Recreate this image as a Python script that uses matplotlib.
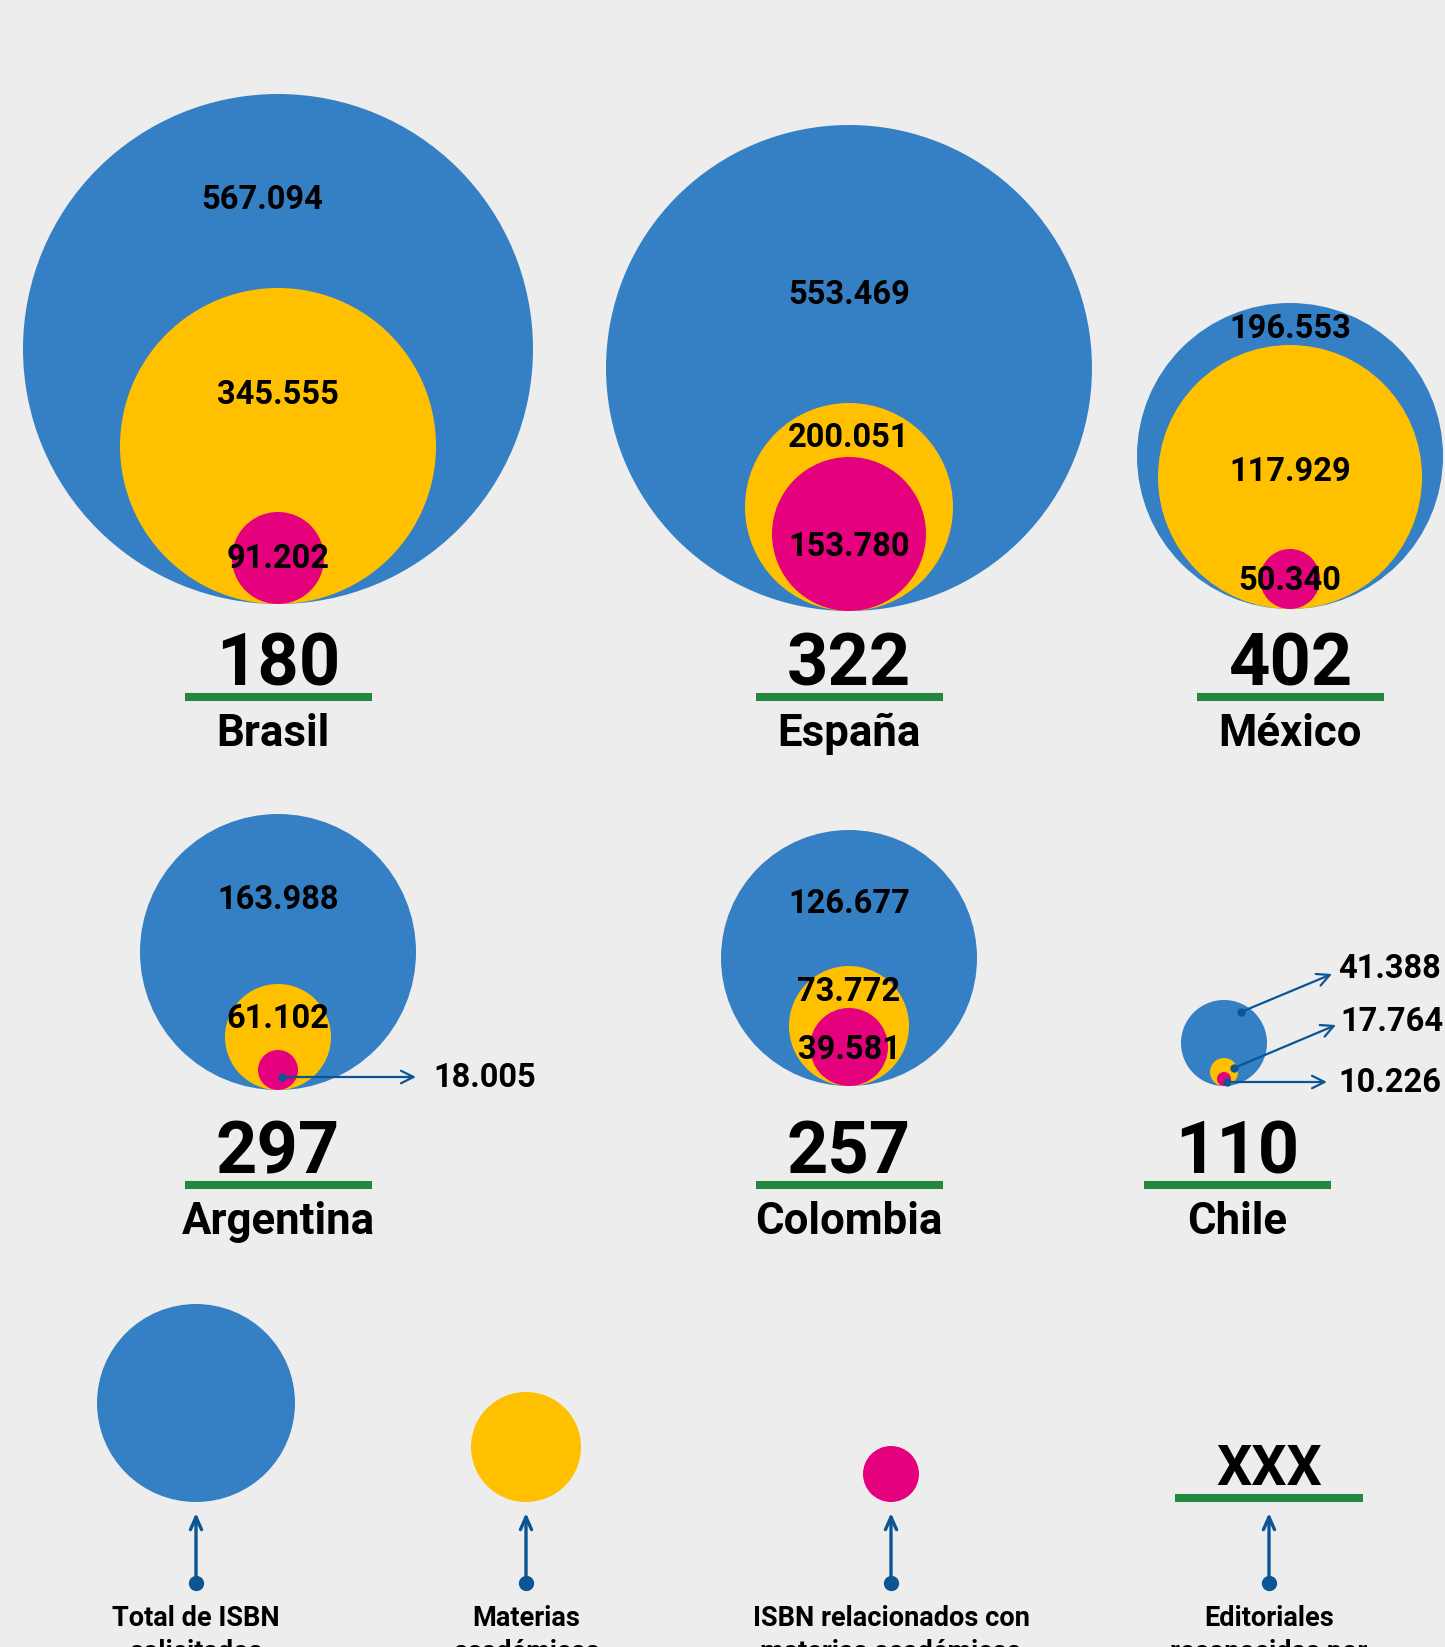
import matplotlib
matplotlib.use("Agg")
import matplotlib.pyplot as plt
from matplotlib.patches import Circle

plt.rcParams['font.family'] = ['Roboto', 'DejaVu Sans']

# data
countries = ['Brasil', 'España', 'México', 'Argentina', 'Colombia', 'Chile']
editoriales = [180, 322, 402, 297, 257, 110]
isbn_total = [567094, 553469, 196553, 163988, 126677, 41388]
isbn_materias = [345555, 200051, 117929, 61102, 73772, 17764]
isbn_relacionados = [91202, 153780, 50340, 18005, 39581, 10226]
legend_labels = [('Total de ISBN', 'solicitados'), ('Materias', 'académicas'),
                 ('ISBN relacionados con', 'materias académicas'),
                 ('Editoriales', 'reconocidas por')]

# layout (pixels, the original is not drawn to one scale)
col_x = [278, 849, 1290, 278, 849, 1224]
label_x = [278, 849, 1290, 278, 849, 1237]
bottom_y = [604, 611, 609, 1090, 1086, 1086]
r_total = [255, 243, 153, 138, 128, 43]
r_materias = [158, 104, 132, 53, 60, 14]
r_relac = [46, 77, 30, 20, 39, 7]
# baselines of the values written inside the circles
y_total = [209, 304, 338, 909, 913]
y_materias = [404, 447, 481, 1028, 1001]
y_relac = [568, 556, 590, None, 1059]
row_base = [685, 685, 685, 1173, 1173, 1173]

BG = '#ededed'
BLUE = '#3580c4'
YELLOW = '#ffc000'
PINK = '#e5007d'
GREEN = '#23883e'
ARROW = '#0b5594'

W, H = 1445, 1647
fig = plt.figure(figsize=(W / 100, H / 100), dpi=100, facecolor=BG)
ax = fig.add_axes([0, 0, 1, 1])
ax.set_xlim(0, W)
ax.set_ylim(H, 0)
ax.set_aspect('equal')
ax.axis('off')
ax.set_facecolor(BG)


def fmt(v):
    return f"{v:,}".replace(',', '.')


def val_text(x, y, v, **kw):
    ax.text(x, y, fmt(v), ha='center', va='baseline', fontsize=23.5,
            fontweight='bold', color='black', zorder=5, **kw)


for i, c in enumerate(countries):
    x = col_x[i]
    b = bottom_y[i]
    for r, col in [(r_total[i], BLUE), (r_materias[i], YELLOW), (r_relac[i], PINK)]:
        ax.add_patch(Circle((x, b - r), r, color=col, lw=0, zorder=2))

    if i < 5:
        xt = 262 if i == 0 else x
        val_text(xt, y_total[i], isbn_total[i])
        val_text(x, y_materias[i], isbn_materias[i])
        if y_relac[i] is not None:
            val_text(x, y_relac[i], isbn_relacionados[i])

    lx = label_x[i]
    base = row_base[i]
    ax.text(lx, base, str(editoriales[i]), ha='center', va='baseline',
            fontsize=52, fontweight='bold', color='black')
    ax.plot([lx - 93.5, lx + 93.5], [base + 12, base + 12], color=GREEN,
            lw=5.8, solid_capstyle='butt')
    ax.text(lx - (5 if i == 0 else 0), base + 61, c, ha='center', va='baseline',
            fontsize=31.5, fontweight='bold', color='black')

# Argentina: callout for the small pink circle
ia = 3
ax.plot(282, 1077, 'o', color=ARROW, ms=5, zorder=6)
ax.annotate('', xy=(416, 1077), xytext=(282, 1077),
            arrowprops=dict(arrowstyle='->,head_length=0.9,head_width=0.45',
                            color=ARROW, lw=1.6, shrinkA=0, shrinkB=0), zorder=6)
ax.text(433, 1087, fmt(isbn_relacionados[ia]), ha='left', va='baseline',
        fontsize=23.5, fontweight='bold')

# Chile: callouts for all three circles
ic = 5
chile_pts = [((1241, 1012), (1332, 974), 1338, 978, isbn_total[ic]),
             ((1234, 1068), (1336, 1025), 1340, 1031, isbn_materias[ic]),
             ((1227, 1082), (1327, 1082), 1338, 1092, isbn_relacionados[ic])]
for start, end, tx, ty, v in chile_pts:
    ax.plot(*start, 'o', color=ARROW, ms=5, zorder=6)
    ax.annotate('', xy=end, xytext=start,
                arrowprops=dict(arrowstyle='->,head_length=0.9,head_width=0.45',
                                color=ARROW, lw=1.6, shrinkA=0, shrinkB=0), zorder=6)
    ax.text(tx, ty, fmt(v), ha='left', va='baseline', fontsize=23.5, fontweight='bold')

# legend
leg_x = [196, 526, 891, 1269]
leg_r = [99, 55, 28]
leg_col = [BLUE, YELLOW, PINK]
for j in range(3):
    ax.add_patch(Circle((leg_x[j], 1502 - leg_r[j]), leg_r[j], color=leg_col[j], lw=0))
ax.text(leg_x[3], 1485, 'XXX', ha='center', va='baseline', fontsize=40,
        fontweight='bold')
ax.plot([leg_x[3] - 94, leg_x[3] + 94], [1498, 1498], color=GREEN, lw=5.8,
        solid_capstyle='butt')
for j in range(4):
    ax.plot(leg_x[j], 1583, 'o', color=ARROW, ms=10, zorder=6)
    ax.annotate('', xy=(leg_x[j], 1513), xytext=(leg_x[j], 1583),
                arrowprops=dict(arrowstyle='->,head_length=0.9,head_width=0.4',
                                color=ARROW, lw=2.4, shrinkA=0, shrinkB=0))
    line1, line2 = legend_labels[j]
    ax.text(leg_x[j], 1626, line1, ha='center', va='baseline',
            fontsize=19.5, fontweight='bold')
    ax.text(leg_x[j], 1660, line2, ha='center', va='baseline',
            fontsize=19.5, fontweight='bold')

fig.savefig('out.png', dpi=100, facecolor=BG)
